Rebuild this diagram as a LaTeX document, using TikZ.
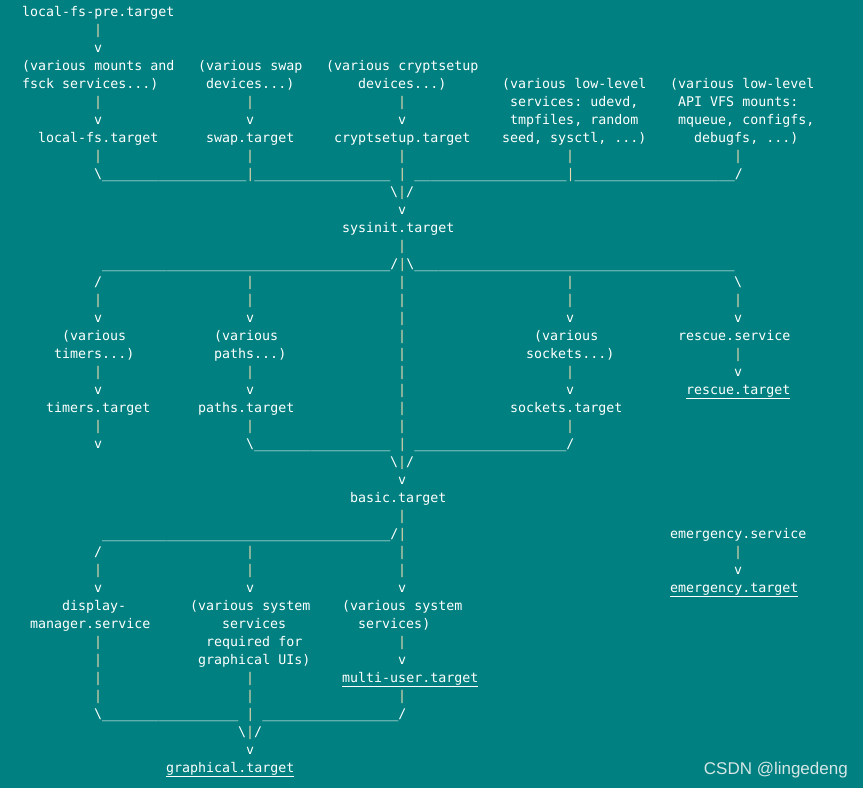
\documentclass[tikz,border=0pt]{standalone}
\usepackage{fontspec}
\setmonofont{DejaVu Sans Mono}
\newfontfamily\wmfont{Liberation Sans}
\definecolor{bg}{HTML}{008080}
\definecolor{pipe}{HTML}{EAD7AE}
\definecolor{wm}{HTML}{D6E6E6}
\ExplSyntaxOn
\NewDocumentCommand\us{m}{\prg_replicate:nn{#1}{\_}}
\ExplSyntaxOff
\newcommand\p{{\color{pipe}|}}
\newcommand\bs{\textbackslash}
\tikzset{txt/.style={inner sep=0pt,anchor=base west,text=white,font=\fontsize{13.3}{15}\selectfont\ttfamily}}
\newcommand\T[3]{\node[txt] at ({8*#1-82},{-(16+18*#2)}) {#3};}
\newcommand\Ps[2]{\foreach \c in {#2} {\T{\c}{#1}{\p}}}
\newcommand\Vs[2]{\foreach \c in {#2} {\T{\c}{#1}{v}}}
\begin{document}
\begin{tikzpicture}[x=1pt,y=1pt]
\fill[bg] (0,0) rectangle (863,-788);
\useasboundingbox (0,0) rectangle (863,-788);
\T{13}{0}{local-fs-pre.target}
\Ps{1}{22}
\Vs{2}{22}
\T{13}{3}{(various mounts and}
\T{35}{3}{(various swap}
\T{51}{3}{(various cryptsetup}
\T{13}{4}{fsck services...)}
\T{36}{4}{devices...)}
\T{55}{4}{devices...)}
\T{73}{4}{(various low-level}
\T{94}{4}{(various low-level}
\Ps{5}{22,41,60}
\T{74}{5}{services: udevd,}
\T{95}{5}{API VFS mounts:}
\Vs{6}{22,41,60}
\T{74}{6}{tmpfiles, random}
\T{95}{6}{mqueue, configfs,}
\T{15}{7}{local-fs.target}
\T{36}{7}{swap.target}
\T{52}{7}{cryptsetup.target}
\T{73}{7}{seed, sysctl, ...)}
\T{97}{7}{debugfs, ...)}
\Ps{8}{22,41,60,81,102}
\T{22}{9}{\bs\us{18}\p\us{17}~\p~\us{19}\p\us{20}/}
\T{59}{10}{\bs\p/}
\Vs{11}{60}
\T{53}{12}{sysinit.target}
\Ps{13}{60}
\T{23}{14}{\us{36}/\p\bs\us{40}}
\T{22}{15}{/}\Ps{15}{41,60,81}\T{102}{15}{\bs}
\Ps{16}{22,41,60,81,102}
\Vs{17}{22,41,81,102}\Ps{17}{60}
\T{18}{18}{(various}
\T{37}{18}{(various}
\Ps{18}{60}
\T{77}{18}{(various}
\T{95}{18}{rescue.service}
\T{17}{19}{timers...)}
\T{37}{19}{paths...)}
\Ps{19}{60,102}
\T{76}{19}{sockets...)}
\Ps{20}{22,41,60,81}\Vs{20}{102}
\Vs{21}{22,41,81}\Ps{21}{60}
\T{96}{21}{\underline{rescue.target}}
\T{16}{22}{timers.target}
\T{35}{22}{paths.target}
\Ps{22}{60}
\T{74}{22}{sockets.target}
\Ps{23}{22,41,60,81}
\Vs{24}{22}
\T{41}{24}{\bs\us{17}~\p~\us{19}/}
\T{59}{25}{\bs\p/}
\Vs{26}{60}
\T{54}{27}{basic.target}
\Ps{28}{60}
\T{23}{29}{\us{36}/\p}
\T{94}{29}{emergency.service}
\T{22}{30}{/}\Ps{30}{41,60,102}
\Ps{31}{22,41,60}\Vs{31}{102}
\Vs{32}{22,41,60}
\T{94}{32}{\underline{emergency.target}}
\T{18}{33}{display-}
\T{34}{33}{(various system}
\T{53}{33}{(various system}
\T{14}{34}{manager.service}
\T{38}{34}{services}
\T{55}{34}{services)}
\Ps{35}{22,60}
\T{36}{35}{required for}
\Ps{36}{22}
\T{35}{36}{graphical UIs)}
\Vs{36}{60}
\Ps{37}{22,41}
\T{53}{37}{\underline{multi-user.target}}
\Ps{38}{22,41,60}
\T{22}{39}{\bs\us{17}~\p~\us{17}/}
\T{40}{40}{\bs\p/}
\Vs{41}{41}
\T{31}{42}{\underline{graphical.target}}
\node[inner sep=0pt,anchor=base east,text=wm,font=\fontsize{17}{20}\selectfont\wmfont] (wmk) at (848,-774) {CSDN @lingedeng};
\end{tikzpicture}
\end{document}
